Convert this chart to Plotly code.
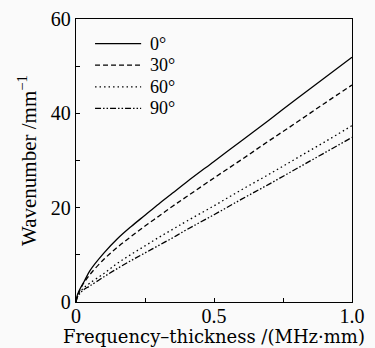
import plotly.graph_objects as go

x = [0, 0.005, 0.01, 0.02, 0.03, 0.05, 0.1, 0.15, 0.2, 0.25, 0.3, 0.35, 0.4, 0.5, 0.6, 0.7, 0.8, 0.9, 1.0]
y0 = [0, 1.5, 2.2, 3.4, 4.4, 6.6, 10.3, 13.4, 16.0, 18.4, 20.8, 23.1, 25.4, 29.8, 34.2, 38.6, 43.1, 47.5, 51.9]
y30 = [0, 1.3, 2.0, 3.2, 4.2, 5.8, 9.0, 11.6, 13.9, 16.1, 18.2, 20.3, 22.3, 26.3, 30.2, 34.2, 38.1, 42.1, 46.0]
y60 = [0, 1.1, 1.7, 2.5, 3.1, 4.0, 6.0, 8.2, 10.1, 11.9, 13.7, 15.4, 17.1, 20.4, 23.8, 27.1, 30.5, 33.9, 37.4]
y90 = [0, 1.0, 1.5, 2.2, 2.7, 3.4, 5.3, 7.1, 8.8, 10.4, 12.0, 13.6, 15.3, 18.5, 21.8, 25.0, 28.3, 31.6, 34.9]
names = ["0°", "30°", "60°", "90°"]
dashes = ["solid", "5px,3px", "1.5px,3px", "6px,2px,1.5px,2px,1.5px,2px"]
x_title = "Frequency–thickness /(MHz·mm)"
y_title = "Wavenumber /mm<sup>−1</sup>"

serif = "Liberation Serif"
wide = "DejaVu Serif"

fig = go.Figure()
for ys, nm, ds in zip([y0, y30, y60, y90], names, dashes):
    fig.add_trace(go.Scatter(x=x, y=ys, mode="lines", name=nm, line_shape="spline",
                             line=dict(color="black", width=1.3, dash=ds)))

# legend drawn as sample lines + labels
leg_y = [0.913, 0.837, 0.760, 0.684]
for nm, ds, ly in zip(names, dashes, leg_y):
    fig.add_shape(type="line", xref="x domain", yref="y domain", x0=0.069, x1=0.236, y0=ly, y1=ly,
                  line=dict(color="black", width=1.3, dash=ds))
    fig.add_annotation(xref="x domain", yref="y domain", x=0.262, y=ly, xanchor="left", yanchor="middle",
                       text=nm, showarrow=False, font=dict(family=serif, size=18, color="black"))

# x-axis title
fig.add_annotation(xref="x domain", yref="y domain", x=0.5, y=-0.1625, xanchor="center", yanchor="bottom",
                   text=x_title, showarrow=False, borderpad=0,
                   font=dict(family=wide, size=18, color="black"))

fig.update_layout(
    width=375, height=348,
    margin=dict(l=76, r=23, t=19, b=46, autoexpand=False),
    paper_bgcolor="#fafafa", plot_bgcolor="#fafafa",
    font=dict(family=serif, size=19, color="black"),
    showlegend=False,
    xaxis=dict(range=[0, 1.0], tickvals=[0, 0.25, 0.5, 0.75, 1.0], ticktext=["0", "", "0.5", "", "1.0"],
               ticks="inside", ticklen=4, tickcolor="black", showline=True, linecolor="black", linewidth=1.3,
               mirror=True, showgrid=False, zeroline=False, ticklabelstandoff=-4, automargin=False,
               tickfont=dict(family=serif, size=20)),
    yaxis=dict(range=[0, 60], tickvals=[0, 10, 20, 30, 40, 50, 60], ticktext=["0", "", "20", "", "40", "", "60"],
               ticks="inside", ticklen=4, tickcolor="black", showline=True, linecolor="black", linewidth=1.3,
               mirror=True, showgrid=False, zeroline=False, automargin=False,
               tickfont=dict(family=serif, size=20),
               title=dict(text=y_title, standoff=8, font=dict(family=serif, size=21))),
)
fig.write_html("out.html")
